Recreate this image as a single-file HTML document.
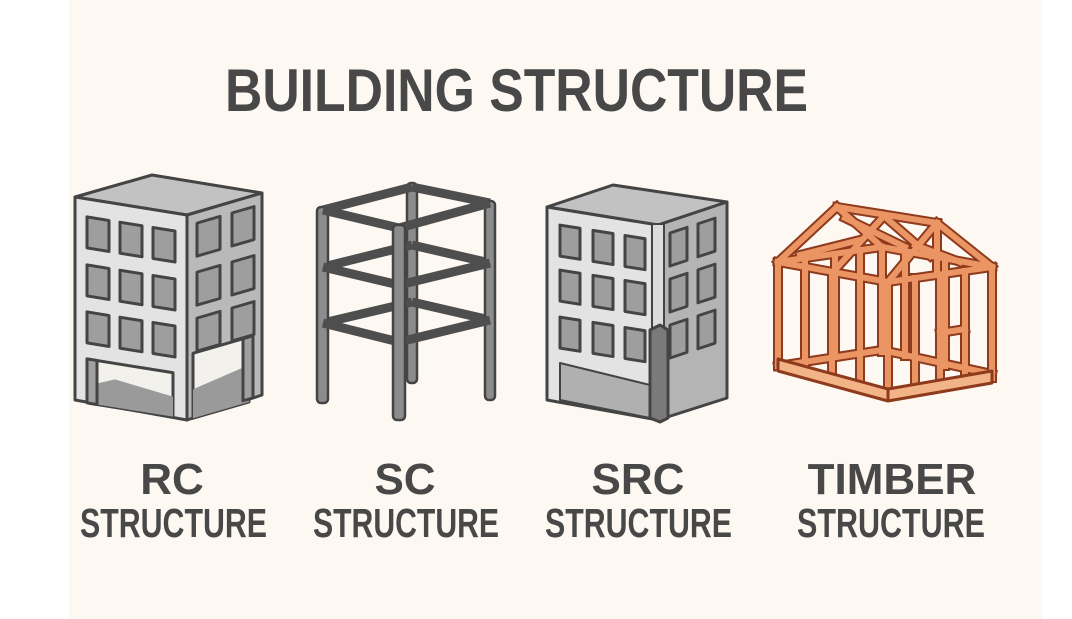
<!DOCTYPE html>
<html><head><meta charset="utf-8"><style>
html,body{margin:0;padding:0;background:#fff;}
svg{display:block;}
text{font-family:"Liberation Sans",sans-serif;font-weight:bold;fill:#484848;}
</style></head><body>
<svg width="1072" height="619" viewBox="0 0 1072 619" xmlns="http://www.w3.org/2000/svg">
<defs>
<g id="tm" fill="none" stroke-linecap="square">
  <line x1="778" y1="262" x2="882" y2="247"/>
  <line x1="882" y1="247" x2="992" y2="267"/>
  <line x1="882" y1="247" x2="882" y2="352"/>
  <line x1="860" y1="250" x2="860" y2="355"/>
  <line x1="905" y1="252" x2="905" y2="356"/>
  <line x1="945" y1="259" x2="945" y2="366"/>
  <line x1="805" y1="258" x2="805" y2="360"/>
  <line x1="835" y1="254" x2="835" y2="356"/>
  <line x1="778" y1="262" x2="837" y2="207"/>
  <line x1="837" y1="207" x2="882" y2="247"/>
  <line x1="837" y1="207" x2="937" y2="223"/>
  <line x1="888" y1="282" x2="937" y2="223"/>
  <line x1="937" y1="223" x2="992" y2="267"/>
  <line x1="833" y1="272" x2="884" y2="216"/>
  <line x1="884" y1="216" x2="930" y2="256"/>
  <line x1="800" y1="255" x2="860" y2="240"/>
  <line x1="845" y1="218" x2="905" y2="247"/>
  <line x1="937" y1="223" x2="937" y2="274"/>
  <line x1="915" y1="245" x2="960" y2="262"/>
  <line x1="805" y1="267" x2="805" y2="369"/>
  <line x1="832" y1="272" x2="832" y2="377"/>
  <line x1="860" y1="277" x2="860" y2="384"/>
  <line x1="915" y1="278" x2="915" y2="387"/>
  <line x1="940" y1="275" x2="940" y2="383"/>
  <line x1="965" y1="271" x2="965" y2="379"/>
  <line x1="940" y1="333" x2="965" y2="329"/>
  <line x1="778" y1="262" x2="888" y2="282"/>
  <line x1="888" y1="282" x2="992" y2="267"/>
  <line x1="778" y1="262" x2="778" y2="366"/>
  <line x1="888" y1="282" x2="888" y2="396"/>
  <line x1="992" y1="267" x2="992" y2="378"/>
  <line x1="778" y1="366" x2="882" y2="350"/>
  <line x1="882" y1="350" x2="992" y2="374"/>
</g>
<g id="scb" fill="none" stroke-linecap="butt">
  <line x1="323" y1="210" x2="412" y2="187"/>
  <line x1="412" y1="187" x2="490" y2="203"/>
  <line x1="323" y1="267" x2="412" y2="245"/>
  <line x1="412" y1="245" x2="490" y2="263"/>
  <line x1="323" y1="323" x2="412" y2="302"/>
  <line x1="412" y1="302" x2="490" y2="320"/>
</g>
<g id="scf" fill="none">
  <line x1="323" y1="210" x2="399" y2="228"/>
  <line x1="399" y1="228" x2="490" y2="203"/>
  <line x1="323" y1="267" x2="399" y2="285"/>
  <line x1="399" y1="285" x2="490" y2="263"/>
  <line x1="323" y1="323" x2="399" y2="342"/>
  <line x1="399" y1="342" x2="490" y2="320"/>
</g>
</defs>
<rect x="69" y="0" width="973" height="619" fill="#fdf9f2"/>

<text x="225" y="111" font-size="60" textLength="583" lengthAdjust="spacingAndGlyphs">BUILDING STRUCTURE</text>

<!-- RC -->
<g stroke="#444" stroke-width="3" stroke-linejoin="round">
  <polygon points="75,197 152,175 262,193 187,215" fill="#c2c2c2"/>
  <polygon points="75,197 187,215 187,420 75,400" fill="#e3e3e3"/>
  <polygon points="187,215 262,193 262,395 187,420" fill="#b9b9b9"/>
  <g transform="matrix(1,0.16,0,1,75,197)">
    <rect x="14" y="160" width="84" height="44" fill="#f3f1ec"/>
    <polygon points="14,186 40,176 98,184 98,204 14,204" fill="#9a9a9a" stroke="none"/>
    <rect x="12" y="160" width="10" height="44" fill="#a0a0a0"/>
    <rect x="12" y="18" width="22" height="31" fill="#9e9e9e"/>
    <rect x="45" y="18" width="22" height="31" fill="#9e9e9e"/>
    <rect x="78" y="18" width="22" height="31" fill="#9e9e9e"/>
    <rect x="12" y="66" width="22" height="31" fill="#9e9e9e"/>
    <rect x="45" y="66" width="22" height="31" fill="#9e9e9e"/>
    <rect x="78" y="66" width="22" height="31" fill="#9e9e9e"/>
    <rect x="12" y="113" width="22" height="31" fill="#9e9e9e"/>
    <rect x="45" y="113" width="22" height="31" fill="#9e9e9e"/>
    <rect x="78" y="113" width="22" height="31" fill="#9e9e9e"/>
  </g>
  <g transform="matrix(1,-0.29,0,1,187,215)">
    <rect x="6" y="140" width="56" height="65" fill="#f3f1ec"/>
    <polygon points="6,176 62,168 62,205 6,205" fill="#9a9a9a" stroke="none"/>
    <rect x="56" y="140" width="10" height="62" fill="#a0a0a0"/>
    <rect x="10" y="11" width="23" height="33" fill="#9e9e9e"/>
    <rect x="45" y="11" width="22" height="33" fill="#9e9e9e"/>
    <rect x="10" y="60" width="23" height="33" fill="#9e9e9e"/>
    <rect x="45" y="60" width="22" height="33" fill="#9e9e9e"/>
    <rect x="10" y="106" width="23" height="33" fill="#9e9e9e"/>
    <rect x="45" y="106" width="22" height="33" fill="#9e9e9e"/>
  </g>
</g>

<!-- SC -->
<g stroke-linejoin="round">
  <rect x="407" y="183" width="10" height="200" rx="4" fill="#8c8c8c" stroke="#444" stroke-width="2.5"/>
  <use href="#scb" stroke="#4e4e4e" stroke-width="9"/>
  <rect x="317" y="207" width="11" height="196" rx="4" fill="#8c8c8c" stroke="#444" stroke-width="2.5"/>
  <rect x="485" y="201" width="10" height="199" rx="4" fill="#8c8c8c" stroke="#444" stroke-width="2.5"/>
  <use href="#scf" stroke="#4e4e4e" stroke-width="9"/>
  <rect x="393" y="225" width="12" height="195" rx="4" fill="#8c8c8c" stroke="#444" stroke-width="2.5"/>
</g>

<!-- SRC -->
<g stroke="#444" stroke-width="3" stroke-linejoin="round">
  <polygon points="547,207 613,185 727,202 658,225" fill="#c2c2c2"/>
  <polygon points="547,207 658,225 658,420 547,400" fill="#e3e3e3"/>
  <polygon points="560,363 650,385 650,418 560,400" fill="#b0b0b0" stroke-width="2"/>
  <polygon points="658,225 727,202 727,398 658,420" fill="#b4b4b4"/>
  <g transform="matrix(1,0.16,0,1,547,207)">
    <rect x="13" y="16" width="20" height="31" fill="#9e9e9e"/>
    <rect x="46" y="16" width="20" height="31" fill="#9e9e9e"/>
    <rect x="78" y="16" width="20" height="31" fill="#9e9e9e"/>
    <rect x="13" y="61" width="20" height="31" fill="#9e9e9e"/>
    <rect x="46" y="61" width="20" height="31" fill="#9e9e9e"/>
    <rect x="78" y="61" width="20" height="31" fill="#9e9e9e"/>
    <rect x="13" y="108" width="20" height="31" fill="#9e9e9e"/>
    <rect x="46" y="108" width="20" height="31" fill="#9e9e9e"/>
    <rect x="78" y="108" width="20" height="31" fill="#9e9e9e"/>
  </g>
  <g transform="matrix(1,-0.33,0,1,658,225)">
    <rect x="12" y="12" width="17" height="33" fill="#9e9e9e"/>
    <rect x="40" y="12" width="17" height="33" fill="#9e9e9e"/>
    <rect x="12" y="58" width="17" height="33" fill="#9e9e9e"/>
    <rect x="40" y="58" width="17" height="33" fill="#9e9e9e"/>
    <rect x="12" y="104" width="17" height="33" fill="#9e9e9e"/>
    <rect x="40" y="104" width="17" height="33" fill="#9e9e9e"/>
  </g>
  <rect x="652" y="224" width="12" height="105" fill="#dcdcdc" stroke-width="2"/>
  <polygon points="650,330 660,325 668,330 668,418 660,422 650,418" fill="#7a7a7a"/>
</g>

<!-- TIMBER -->
<g stroke-linejoin="round">
  <use href="#tm" stroke="#8e3a1c" stroke-width="10"/>
  <use href="#tm" stroke="#ec9564" stroke-width="6"/>
  <polygon points="778,359 888,389 888,401 778,371" fill="#f2b487" stroke="#8e3a1c" stroke-width="3"/>
  <polygon points="888,389 992,371 992,383 888,401" fill="#f2b487" stroke="#8e3a1c" stroke-width="3"/>
</g>

<!-- labels -->
<text x="172" y="494" font-size="44" text-anchor="middle">RC</text>
<text x="80" y="537" font-size="41" textLength="187" lengthAdjust="spacingAndGlyphs">STRUCTURE</text>
<text x="405" y="494" font-size="44" text-anchor="middle">SC</text>
<text x="313" y="537" font-size="41" textLength="186" lengthAdjust="spacingAndGlyphs">STRUCTURE</text>
<text x="638" y="494" font-size="44" text-anchor="middle">SRC</text>
<text x="545" y="537" font-size="41" textLength="187" lengthAdjust="spacingAndGlyphs">STRUCTURE</text>
<text x="892" y="494" font-size="44" text-anchor="middle">TIMBER</text>
<text x="797" y="537" font-size="41" textLength="188" lengthAdjust="spacingAndGlyphs">STRUCTURE</text>
</svg>
</body></html>
